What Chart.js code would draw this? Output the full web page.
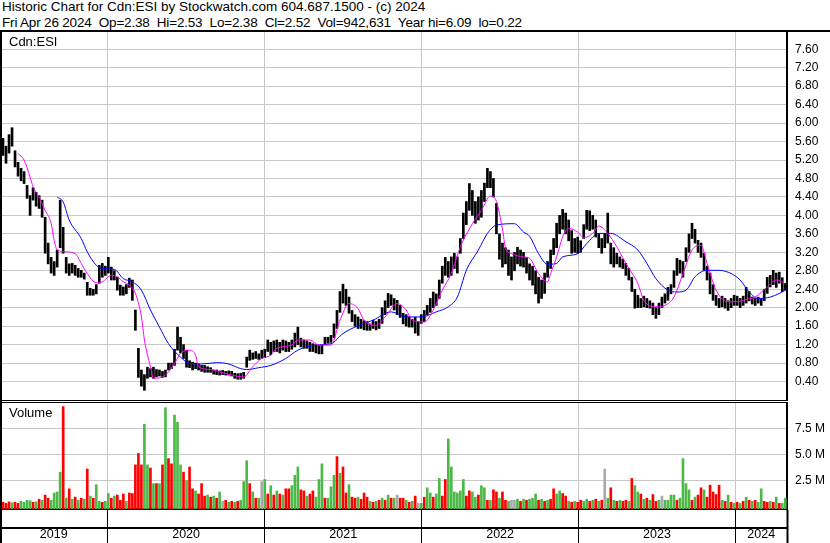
<!DOCTYPE html>
<html>
<head>
<meta charset="utf-8">
<title>Historic Chart for Cdn:ESI</title>
<script src="https://cdn.jsdelivr.net/npm/chart.js@4.4.1/dist/chart.umd.min.js"></script>
<style>
html, body { margin: 0; padding: 0; background: #fff; }
#page { position: relative; width: 830px; height: 543px; overflow: hidden; font-family: 'Liberation Sans', Arial, sans-serif; color: #000; }
#head { position: absolute; left: 2px; top: -1px; font-size: 13.5px; line-height: 16px; white-space: pre; }
#head .l2 { letter-spacing: -0.18px; }
.rule { position: absolute; background: #000; }
canvas { position: absolute; left: 0; }
.tag { position: absolute; left: 9px; font-size: 13px; line-height: 15px; }
</style>
</head>
<body>
<div id="page">
<div id="head">Historic Chart for Cdn:ESI by Stockwatch.com 604.687.1500 - (c) 2024
<span class="l2">Fri Apr 26 2024  Op=2.38  Hi=2.53  Lo=2.38  Cl=2.52  Vol=942,631  Year hi=6.09  lo=0.22</span></div>
<canvas id="price" width="830" height="368" style="top:32px"></canvas>
<canvas id="volume" width="830" height="141" style="top:402px"></canvas>
<div class="rule" style="left:0;top:30px;width:830px;height:2px"></div>
<div class="rule" style="left:0;top:32px;width:2px;height:511px"></div>
<div class="rule" style="left:0;top:400px;width:788px;height:1px"></div>
<div class="rule" style="left:0;top:402px;width:788px;height:1px"></div>
<div class="rule" style="left:0;top:527px;width:788px;height:2px"></div>
<div class="tag" style="top:34px">Cdn:ESI</div>
<div class="tag" style="top:405px">Volume</div>
</div>
<script>
// weekly bars, week 0 = Fri 26 Apr 2019, x = days since then
const DAY_MAX = 1831;
const yearStarts = [0, 250, 616, 981, 1346, 1711, DAY_MAX];
const yearLabels = ['2019', '2020', '2021', '2022', '2023', '2024'];
const priceTicks = [0.40, 0.80, 1.20, 1.60, 2.00, 2.40, 2.80, 3.20, 3.60, 4.00,
                    4.40, 4.80, 5.20, 5.60, 6.00, 6.40, 6.80, 7.20, 7.60];
const volTicks = [2.5, 5.0, 7.5];   // millions

// weekly high / low
const hi = [
  6.05,5.67,5.5,5.75,5.9,5.4,5.15,5.02,4.95,4.65,
  4.43,4.6,4.5,4.43,4.33,3.96,3.4,3.09,3.0,3.25,
  4.33,3.74,3.09,2.95,2.96,2.92,2.85,2.81,2.75,2.55,
  2.42,2.4,2.5,2.92,2.96,2.9,3.09,2.88,2.8,2.66,
  2.49,2.45,2.5,2.64,2.6,1.95,1.12,0.65,0.55,0.71,
  0.68,0.71,0.66,0.65,0.62,0.65,0.8,0.8,1.1,1.58,
  1.36,1.2,1.08,0.85,0.82,0.8,0.78,0.75,0.75,0.72,
  0.7,0.65,0.65,0.63,0.64,0.62,0.63,0.62,0.58,0.57,
  0.58,0.6,0.93,1.08,1.02,1.05,1.0,1.08,1.1,1.3,
  1.25,1.28,1.3,1.25,1.3,1.28,1.25,1.3,1.45,1.58,
  1.34,1.3,1.28,1.25,1.22,1.2,1.18,1.2,1.36,1.36,
  1.4,1.65,1.94,2.35,2.51,2.4,2.23,1.94,1.85,1.8,
  1.75,1.72,1.7,1.65,1.73,1.7,1.75,2.0,2.15,2.31,
  2.28,2.2,2.16,2.05,1.88,1.85,1.8,1.75,1.79,1.7,
  1.85,1.94,2.05,2.2,2.34,2.3,2.6,2.9,3.09,3.0,
  3.1,3.18,3.1,3.5,4.05,4.3,4.69,4.54,4.3,4.4,
  4.54,4.7,5.02,4.95,4.8,4.26,3.6,3.4,3.3,3.25,
  3.1,3.2,3.31,3.25,3.2,3.09,2.95,2.9,2.8,2.66,
  2.6,2.75,3.0,3.25,3.5,3.83,4.0,4.13,4.05,3.9,
  3.67,3.5,3.53,3.45,3.8,4.11,4.1,4.0,3.9,3.6,
  3.5,3.6,4.05,3.4,3.3,3.18,3.1,3.05,2.96,2.85,
  2.66,2.4,2.27,2.2,2.25,2.2,2.15,2.1,2.0,2.1,
  2.23,2.3,2.44,2.5,2.8,3.07,3.03,3.0,3.3,3.6,
  3.83,3.7,3.46,3.4,3.18,2.9,2.75,2.5,2.27,2.2,
  2.25,2.2,2.15,2.2,2.27,2.25,2.2,2.25,2.44,2.35,
  2.23,2.2,2.23,2.2,2.4,2.66,2.7,2.81,2.75,2.77,
  2.65,2.53
];
const lo = [
  5.45,5.3,5.13,5.35,5.5,5.05,4.85,4.75,4.69,4.37,
  4.0,4.33,4.2,4.15,3.96,3.18,2.95,2.75,2.7,2.88,
  3.3,3.18,2.75,2.7,2.75,2.7,2.66,2.66,2.62,2.27,
  2.27,2.27,2.3,2.53,2.66,2.7,2.75,2.6,2.6,2.38,
  2.27,2.27,2.3,2.44,2.16,1.51,0.49,0.3,0.21,0.47,
  0.5,0.47,0.5,0.52,0.49,0.5,0.65,0.68,0.75,1.08,
  1.02,0.9,0.71,0.7,0.65,0.68,0.65,0.62,0.6,0.6,
  0.6,0.56,0.55,0.54,0.55,0.54,0.54,0.52,0.47,0.45,
  0.45,0.47,0.71,0.86,0.88,0.9,0.88,0.9,0.92,1.05,
  0.98,1.05,1.05,1.02,1.08,1.05,1.05,1.1,1.15,1.2,
  1.15,1.12,1.12,1.05,1.05,1.02,1.0,1.0,1.2,1.23,
  1.25,1.35,1.55,1.9,2.1,2.05,1.88,1.7,1.6,1.55,
  1.55,1.52,1.51,1.51,1.55,1.52,1.55,1.66,1.85,2.0,
  2.05,1.95,1.85,1.79,1.65,1.6,1.58,1.58,1.45,1.4,
  1.66,1.7,1.85,1.9,2.0,2.05,2.2,2.53,2.7,2.66,
  2.7,2.85,2.75,3.18,3.5,3.8,4.11,4.0,3.83,3.9,
  3.96,4.3,4.6,4.6,4.4,3.6,3.05,2.88,2.95,2.7,
  2.6,2.8,2.95,2.9,2.88,2.75,2.6,2.49,2.3,2.1,
  2.2,2.31,2.66,2.85,3.15,3.3,3.6,3.7,3.6,3.45,
  3.18,3.2,3.18,3.2,3.5,3.7,3.67,3.7,3.53,3.3,
  3.18,3.3,3.4,2.95,2.88,2.95,2.88,2.85,2.7,2.6,
  2.35,1.99,2.0,2.0,2.02,2.0,1.99,1.85,1.77,1.85,
  2.0,2.1,2.16,2.3,2.44,2.7,2.75,2.66,3.0,3.2,
  3.5,3.4,3.2,3.09,2.81,2.6,2.3,2.16,2.05,2.0,
  2.02,1.99,1.94,2.0,2.05,2.05,2.0,2.05,2.1,2.15,
  2.08,2.05,2.1,2.05,2.15,2.31,2.45,2.5,2.44,2.53,
  2.35,2.38
];

// moving averages: week number / value
const magW = [6,8,10,11,13,15,17,18,19,22,25,27,29,32,34,37,39,41,43,45,
  47,48,50,51,55,58,60,63,65,66,70,73,77,81,84,87,90,92,97,99,
  103,106,110,113,116,119,121,125,128,132,135,137,141,144,147,150,153,157,160,163,
  165,167,168,170,174,176,179,182,183,185,187,189,192,194,197,199,202,205,208,212,
  214,218,221,224,227,230,233,235,238,242,245,248,251,255,258,260,261];
const magV = [5.34,5.2,4.83,4.62,4.4,4.11,3.83,3.46,3.25,3.21,3.17,2.96,2.74,2.54,2.56,2.7,2.67,2.56,2.49,2.31,
  1.8,1.3,0.72,0.47,0.54,0.79,1.01,1.08,0.97,0.72,0.66,0.61,0.54,0.5,0.72,0.9,0.97,1.12,1.19,1.3,
  1.3,1.19,1.19,1.73,2.09,1.98,1.73,1.62,1.8,2.09,1.95,1.73,1.69,1.95,2.38,2.74,3.32,3.82,4.11,4.42,
  4.3,3.7,3.3,3.17,3.1,3.07,2.74,2.56,2.74,3.1,3.53,3.72,3.64,3.52,3.61,3.77,3.61,3.32,2.96,2.52,
  2.16,2.02,2.05,2.23,2.74,3.25,3.35,2.96,2.38,2.13,2.13,2.18,2.23,2.45,2.6,2.56,2.5];
const bluW = [19,21,23,27,29,32,34,38,41,44,47,50,53,56,60,63,67,72,76,80,
  82,86,90,95,99,105,110,114,118,124,130,135,140,145,149,152,155,159,162,165,
  171,174,176,179,182,185,187,192,195,199,203,208,212,215,218,222,225,228,231,235,
  239,243,246,249,252,256,259,261];
const bluV = [4.4,4.29,3.9,3.5,3.21,2.92,2.85,2.83,2.63,2.56,2.38,1.95,1.58,1.22,0.93,0.79,0.78,0.81,0.78,0.68,
  0.66,0.7,0.75,0.9,1.08,1.19,1.22,1.44,1.58,1.73,1.91,1.8,1.8,1.91,2.02,2.23,2.81,3.25,3.61,3.79,
  3.82,3.64,3.55,3.17,2.94,2.96,3.1,3.17,3.39,3.61,3.61,3.43,3.25,2.96,2.63,2.38,2.34,2.38,2.67,2.81,
  2.81,2.74,2.6,2.34,2.2,2.23,2.31,2.38];

// volume in millions, and up/down/unchanged (g/r/n)
const volM = [
  0.3,0.4,0.3,0.45,0.35,0.4,0.3,0.5,0.4,0.6,
  0.55,0.4,0.45,0.7,0.6,1.1,0.8,0.6,1.3,1.4,
  3.3,9.6,0.8,1.7,0.7,0.9,0.6,0.8,0.7,3.6,
  1.0,0.8,2.1,0.5,0.4,0.5,1.25,0.8,1.0,1.1,
  0.6,1.2,0.5,1.3,1.25,4.0,5.1,4.0,7.9,4.0,
  3.7,2.2,2.2,2.2,4.0,9.5,4.6,4.1,8.8,8.1,
  4.0,3.3,2.5,3.8,1.7,1.5,1.2,2.2,1.0,1.1,
  0.9,1.0,0.8,1.4,0.5,0.6,0.4,0.5,0.4,0.5,
  0.6,2.4,4.4,2.2,1.4,0.8,0.8,2.4,2.6,1.2,
  2.0,1.1,1.5,1.2,1.1,1.7,1.7,2.0,3.0,3.8,
  1.6,1.5,1.0,1.2,1.5,0.9,2.6,4.1,0.8,0.8,
  1.9,3.0,4.8,3.2,3.8,1.3,2.1,0.9,0.8,0.9,
  0.7,1.3,0.9,0.5,0.4,0.5,0.6,0.8,0.6,1.1,
  0.8,0.8,1.1,0.8,0.8,0.6,0.4,0.5,1.0,0.3,
  0.3,0.9,1.8,1.3,0.9,1.2,2.7,1.0,2.6,6.5,
  3.8,1.4,1.3,1.5,2.6,1.0,1.5,1.4,0.9,1.1,
  2.0,1.8,0.6,0.6,1.6,1.4,0.8,1.4,0.6,0.5,
  0.6,0.6,0.7,0.5,0.7,0.6,0.7,0.8,1.2,0.6,
  0.7,0.5,0.6,0.7,1.7,1.2,1.5,1.25,1.0,0.5,
  0.4,0.5,0.4,0.6,0.5,0.7,0.5,0.6,0.7,0.5,
  0.6,3.6,0.8,1.8,0.6,0.5,0.6,0.5,0.6,0.5,
  2.7,2.0,1.4,1.2,0.7,0.8,0.6,1.15,0.5,0.6,
  1.0,0.6,0.6,1.1,1.1,0.6,0.8,4.6,2.2,1.6,
  0.6,0.9,1.1,1.8,1.6,0.9,2.05,1.4,1.15,2.05,
  0.6,0.5,1.1,0.4,0.3,0.4,0.3,0.5,0.9,0.6,
  0.5,0.6,0.4,1.7,0.5,0.4,0.5,0.4,0.9,0.3,
  0.3,0.8
];
const volDir =
  'rrrrgrrggg' + 'grgrgrrggg' + 'grgrgrgrgr' + 'grggrggrgr' + 'rrgrrrrrgg' +
  'rgrgrgrrgg' + 'grgrrgrrrg' + 'rgrgnrgrgr' + 'gggrgrgngr' + 'grgrgrrggg' +
  'rrgrrgggrg' + 'ggrgrrgrrg' + 'rrrgrgrgrg' + 'rgnrrgrgrn' + 'grggrggrrg' +
  'gggggrrggr' + 'ggrgrrgrrg' + 'nngrgrgggr' + 'grgrrggrrg' + 'rgrrggrgrg' +
  'rngrgrgrrg' + 'rggrgrgrrg' + 'nggggrgggg' + 'rgrrgrrrrr' + 'grgrgrgrgr' +
  'grggrrgrgr' + 'gg';

const FONT = "'Liberation Sans', Arial, sans-serif";
const GRID = '#c8c8c8';
const dirColor = {r: '#ff0000', g: '#4cb848', n: '#a8a8a8'};

const yearMids = yearLabels.map((y, i) => (yearStarts[i] + yearStarts[i + 1]) / 2);

function yearTicks(scale) {
  scale.ticks = yearStarts.concat(yearMids).sort((a, b) => a - b).map(v => ({value: v}));
}
function innerStart(c) {
  const v = c.tick ? c.tick.value : -1;
  return v > 0 && v < DAY_MAX && yearStarts.includes(v);
}
function noPad(s) { s.paddingTop = 0; s.paddingBottom = 0; s.paddingLeft = 0; s.paddingRight = 0; }

Chart.defaults.font.family = FONT;
Chart.defaults.color = '#000';

new Chart(document.getElementById('price'), {
  type: 'bar',
  data: {
    datasets: [{
      type: 'line',
      data: magW.map((w, i) => ({x: w * 7, y: magV[i]})),
      borderColor: '#ff00ff',
      borderWidth: 1,
      pointRadius: 0,
      cubicInterpolationMode: 'monotone',
      order: 0
    }, {
      type: 'line',
      data: bluW.map((w, i) => ({x: w * 7, y: bluV[i]})),
      borderColor: '#0000ff',
      borderWidth: 1,
      pointRadius: 0,
      cubicInterpolationMode: 'monotone',
      order: 1
    }, {
      data: hi.map((h, i) => ({x: i * 7, y: [lo[i], h]})),
      backgroundColor: '#000',
      barThickness: 2,
      order: 2
    }]
  },
  options: {
    animation: false,
    responsive: false,
    devicePixelRatio: 1,
    layout: {padding: 0},
    plugins: {legend: {display: false}, tooltip: {enabled: false}},
    scales: {
      x: {
        type: 'linear', min: 0, max: DAY_MAX, offset: false,
        grid: {offset: false, drawTicks: false, color: c => innerStart(c) ? GRID : 'rgba(0,0,0,0)'},
        border: {display: false},
        ticks: {display: false},
        afterBuildTicks: yearTicks,
        afterFit: s => { s.height = 0; noPad(s); }
      },
      y: {
        position: 'right', min: 0, max: 7.974,
        grid: {color: GRID, drawTicks: false},
        border: {display: true, color: '#000', width: 2},
        ticks: {padding: 8, font: {size: 12}, callback: v => v.toFixed(2)},
        afterBuildTicks: s => { s.ticks = priceTicks.map(v => ({value: v})); },
        afterFit: s => { s.width = 43; noPad(s); }
      }
    }
  }
});

new Chart(document.getElementById('volume'), {
  type: 'bar',
  data: {
    datasets: [{
      data: volM.map((v, i) => ({x: i * 7, y: v})),
      backgroundColor: volM.map((v, i) => dirColor[volDir[i]]),
      barThickness: 2,
      base: -0.24
    }]
  },
  options: {
    animation: false,
    responsive: false,
    devicePixelRatio: 1,
    layout: {padding: 0},
    plugins: {legend: {display: false}, tooltip: {enabled: false}},
    scales: {
      x: {
        type: 'linear', min: 0, max: DAY_MAX, offset: false, position: 'bottom',
        grid: {
          offset: false, drawTicks: true, tickLength: 34,
          color: c => innerStart(c) ? GRID : 'rgba(0,0,0,0)',
          tickColor: c => (c.tick && yearStarts.includes(c.tick.value)) ? '#000' : 'rgba(0,0,0,0)',
          tickWidth: c => (c.tick && (c.tick.value === 0 || c.tick.value === DAY_MAX)) ? 2 : 1
        },
        border: {display: true, color: '#000', width: 2},
        ticks: {
          autoSkip: false, maxRotation: 0, padding: -15.5, font: {size: 12.5},
          callback: v => { const k = yearMids.indexOf(v); return k < 0 ? '' : yearLabels[k]; }
        },
        afterBuildTicks: yearTicks,
        afterFit: s => { s.height = 34; noPad(s); }
      },
      y: {
        position: 'right', min: -0.24, max: 10.048,
        grid: {color: GRID, drawTicks: false},
        border: {display: true, color: '#000', width: 2},
        ticks: {padding: 8, font: {size: 12}, callback: v => v.toFixed(1) + ' M'},
        afterBuildTicks: s => { s.ticks = volTicks.map(v => ({value: v})); },
        afterFit: s => { s.width = 43; noPad(s); }
      }
    }
  }
});
</script>
</body>
</html>
